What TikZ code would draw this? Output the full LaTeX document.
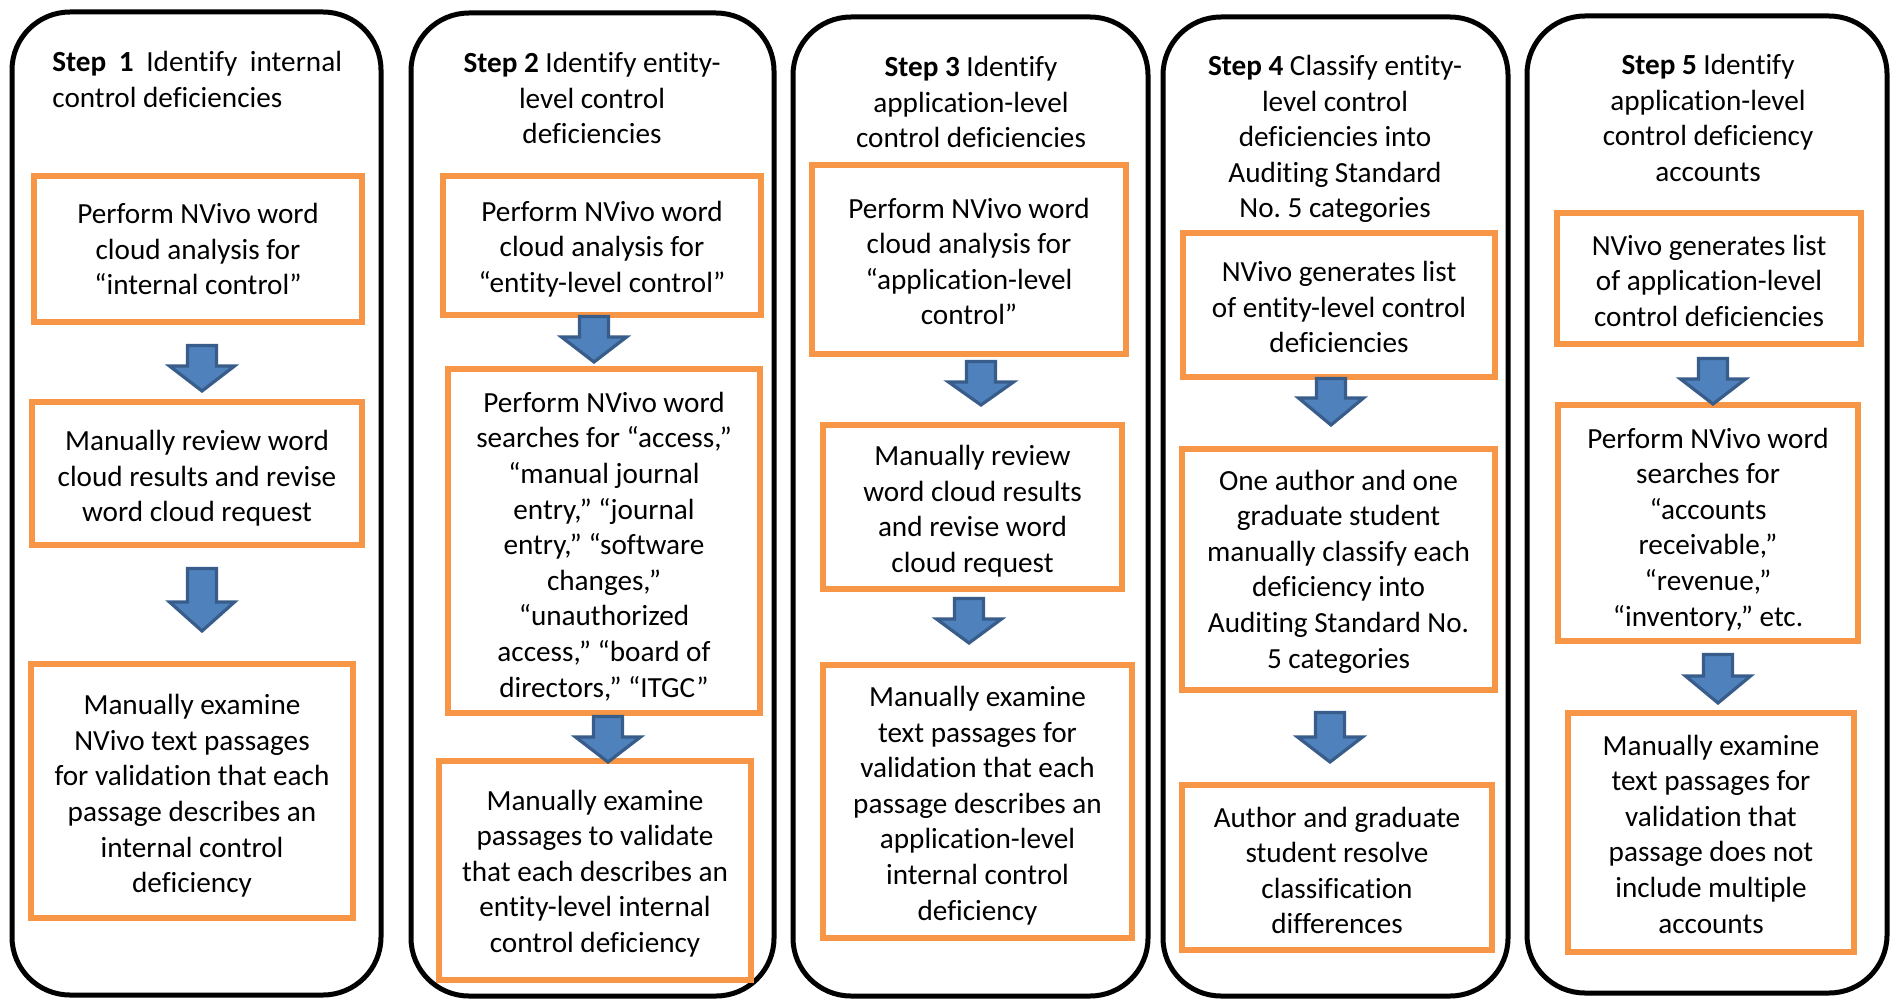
\documentclass[tikz,border=0pt]{standalone}
\usepackage{fontspec}
\setmainfont{Carlito}[Ligatures={TeX,NoCommon}]
\frenchspacing
\definecolor{boxorange}{RGB}{247,150,70}
\definecolor{arrowfill}{RGB}{79,129,189}
\definecolor{arrowline}{RGB}{56,93,138}
\newcommand{\myarrow}[4]{%
  \draw[blockarrow] (#1-14.5,#2+1.5) -- (#1+14.5,#2+1.5) -- (#1+14.5,#3) -- (#1+32.5,#3)
    -- (#1,#4-2) -- (#1-32.5,#3) -- (#1-14.5,#3) -- cycle;}
\tikzset{
  column/.style={draw=black, line width=2.5pt, rounded corners=29pt},
  stepbox/.style={draw=boxorange, line width=2.6pt, fill=white, inner sep=0pt},
  boxtext/.style={align=flush center, inner sep=0pt,
    font=\fontsize{14.6}{17.8}\selectfont},
  header/.style={align=flush center, text width=150pt, inner sep=0pt, anchor=base,
    font=\fontsize{14.6}{17.8}\selectfont},
  blockarrow/.style={fill=arrowfill, draw=arrowline, line width=1.6pt, line join=miter}
}
\begin{document}
\begin{tikzpicture}[x=0.5pt,y=-0.5pt]
\useasboundingbox (0,0) rectangle (1894,1000);
\fill[white] (0,0) rectangle (1894,1000);
% columns
\draw[column] (12,12) rectangle (381,995);
\draw[column] (411,13) rectangle (774,996);
\draw[column] (793,17) rectangle (1148,996);
\draw[column] (1163,17) rectangle (1508,996);
\draw[column] (1527,16) rectangle (1887,993);
% headers
\node[header, align=flush left, anchor=base west] (h1) at (52,71.5)
  {\textbf{Step\hspace{3pt} 1}\hspace{3pt} Identify\hspace{3pt} internal\\control deficiencies};
\node[header] (h2) at (592,72.5) {\textbf{Step 2} Identify entity-\\level control\\deficiencies};
\node[header] (h3) at (971,76.5) {\textbf{Step 3} Identify\\application-level\\control deficiencies};
\node[header] (h4) at (1335,75.5) {\textbf{Step 4} Classify entity-\\level control\\deficiencies into\\Auditing Standard\\No. 5 categories};
\node[header] (h5) at (1708,74.5) {\textbf{Step 5} Identify\\application-level\\control deficiency\\accounts};
% column 1
\node[stepbox, minimum width=164pt, minimum height=73pt] (b1a) at (198,249) {};
\node[boxtext] (t1a) at (b1a.center)
  {Perform NVivo word\\cloud analysis for\\“internal control”};
\node[stepbox, minimum width=165pt, minimum height=71.5pt] (b1b) at (197,473.5) {};
\node[boxtext] (t1b) at ([yshift=-2.5pt]b1b.center)
  {Manually review word\\cloud results and revise\\word cloud request};
\node[stepbox, minimum width=161pt, minimum height=127pt] (b1c) at (192,791) {};
\node[boxtext] (t1c) at ([yshift=-2.5pt]b1c.center)
  {Manually examine\\NVivo text passages\\for validation that each\\passage describes an\\internal control\\deficiency};
% column 2
\node[stepbox, minimum width=159pt, minimum height=69.5pt] (b2a) at (602,245.5) {};
\node[boxtext] (t2a) at ([yshift=-1.7pt]b2a.center)
  {Perform NVivo word\\cloud analysis for\\“entity-level control”};
\node[stepbox, minimum width=156pt, minimum height=172pt] (b2b) at (604,541) {};
\node[boxtext] (t2b) at ([yshift=-2.7pt]b2b.center)
  {Perform NVivo word\\searches for “access,”\\“manual journal\\entry,” “journal\\entry,” “software\\changes,”\\“unauthorized\\access,” “board of\\directors,” “ITGC”};
\node[stepbox, minimum width=156pt, minimum height=109.5pt] (b2c) at (595,870.5) {};
\node[boxtext] (t2c) at ([yshift=-1.5pt]b2c.center)
  {Manually examine\\passages to validate\\that each describes an\\entity-level internal\\control deficiency};
% column 3
\node[stepbox, minimum width=157pt, minimum height=94.5pt] (b3a) at (969,259.5) {};
\node[boxtext] (t3a) at ([yshift=-1pt]b3a.center)
  {Perform NVivo word\\cloud analysis for\\“application-level\\control”};
\node[stepbox, minimum width=149.5pt, minimum height=82pt] (b3b) at (972.5,507) {};
\node[boxtext] (t3b) at ([yshift=-2.2pt]b3b.center)
  {Manually review\\word cloud results\\and revise word\\cloud request};
\node[stepbox, minimum width=154.5pt, minimum height=136.5pt] (b3c) at (977.5,801.5) {};
\node[boxtext] (t3c) at ([yshift=-2pt]b3c.center)
  {Manually examine\\text passages for\\validation that each\\passage describes an\\application-level\\internal control\\deficiency};
% column 4
\node[stepbox, minimum width=156pt, minimum height=72pt] (b4a) at (1339,305) {};
\node[boxtext] (t4a) at ([yshift=-1pt]b4a.center)
  {NVivo generates list\\of entity-level control\\deficiencies};
\node[stepbox, minimum width=156.5pt, minimum height=120.5pt] (b4b) at (1338.5,569.5) {};
\node[boxtext] (t4b) at ([yshift=-1pt]b4b.center)
  {One author and one\\graduate student\\manually classify each\\deficiency into\\Auditing Standard No.\\5 categories};
\node[stepbox, minimum width=155pt, minimum height=82.5pt] (b4c) at (1337,867.5) {};
\node[boxtext] (t4c) at ([yshift=-1.5pt]b4c.center)
  {Author and graduate\\student resolve\\classification\\differences};
% column 5
\node[stepbox, minimum width=152pt, minimum height=65.5pt] (b5a) at (1709,278.5) {};
\node[boxtext] (t5a) at ([yshift=-1.2pt]b5a.center)
  {NVivo generates list\\of application-level\\control deficiencies};
\node[stepbox, minimum width=150pt, minimum height=118pt] (b5b) at (1708,523) {};
\node[boxtext] (t5b) at ([yshift=-3.2pt]b5b.center)
  {Perform NVivo word\\searches for\\“accounts\\receivable,”\\“revenue,”\\“inventory,” etc.};
\node[stepbox, minimum width=143pt, minimum height=119.5pt] (b5c) at (1711,832.5) {};
\node[boxtext] (t5c) at ([yshift=-0.8pt]b5c.center)
  {Manually examine\\text passages for\\validation that\\passage does not\\include multiple\\accounts};
% block arrows
\myarrow{202}{344}{366}{393}
\myarrow{202}{567}{602}{633}
\myarrow{594}{315}{337}{364}
\myarrow{608}{715}{737}{764}
\myarrow{981}{360}{382}{407}
\myarrow{969}{597}{619}{645}
\myarrow{1331}{377}{398}{427}
\myarrow{1330}{711}{737}{764}
\myarrow{1713}{357}{379}{406}
\myarrow{1718}{653}{676}{705}
\end{tikzpicture}
\end{document}
